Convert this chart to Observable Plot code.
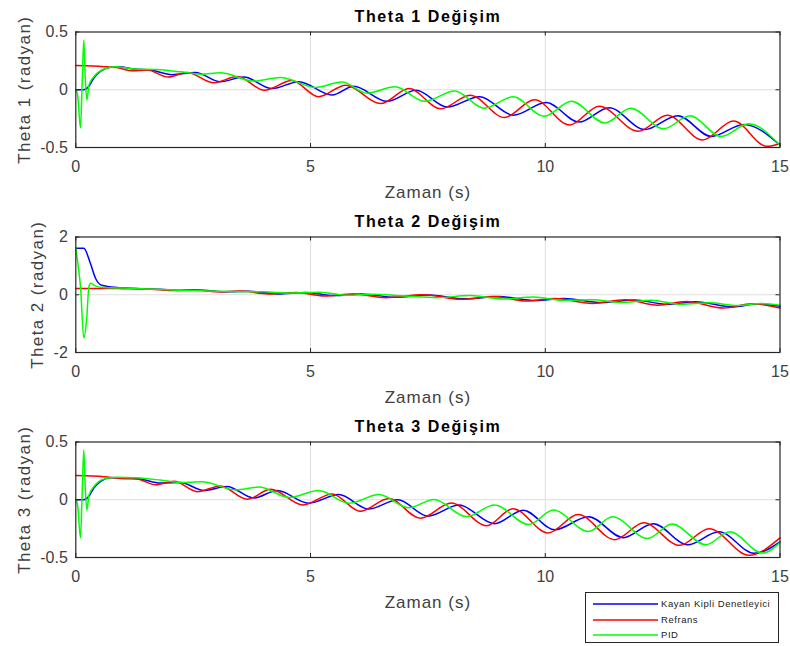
<!DOCTYPE html>
<html>
<head>
<meta charset="utf-8">
<script src="https://cdn.jsdelivr.net/npm/d3@7"></script>
<script src="https://cdn.jsdelivr.net/npm/@observablehq/plot@0.6"></script>
<style>
  body { margin: 0; background: #fff; }
  #fig { position: relative; width: 790px; height: 646px; font-family: "Liberation Sans", Arial, sans-serif; }
  #fig svg.panel { position: absolute; left: 0; }
  #legend { position: absolute; left: 585px; top: 592px; width: 192px; height: 49px; border: 1px solid #262626; background: #fff; }
  #legend .row { position: absolute; left: 0; height: 14px; width: 100%; }
  #legend svg { position: absolute; left: 7px; top: 0; }
  #legend span { position: absolute; left: 75px; top: 0; font-size: 9.5px; line-height: 14px; letter-spacing: 0.55px; color: #222; white-space: nowrap; }
</style>
</head>
<body>
<div id="fig"></div>
<script>
// Shared axis ticks and series legend
const timeTicks = [0, 5, 10, 15];
const theta13Ticks = [-0.5, 0, 0.5];
const theta2Ticks = [-2, 0, 2];
const seriesNames = ["Kayan Kipli Denetleyici", "Refrans", "PID"];
const seriesColors = ["#0000ff", "#ff0000", "#00ff00"];

// Theta 1 responses: [time (s), angle (rad)]
const theta1Kayan = [[0,0],[0.17,0],[0.28,0.03],[0.38,0.1],[0.53,0.16],[0.74,0.195],[0.92,0.2],[1.24,0.18],[1.6,0.17],[2.05,0.13],[2.55,0.15],[3.08,0.07],[3.58,0.11],[4.18,0.01],[4.75,0.07],[5.46,-0.045],[5.92,0.03],[6.63,-0.1],[7.25,-0.005],[7.91,-0.15],[8.6,-0.06],[9.32,-0.22],[10.02,-0.11],[10.72,-0.28],[11.36,-0.155],[12.12,-0.345],[12.82,-0.225],[13.54,-0.405],[14.23,-0.3],[15,-0.48]];
const theta1Ref = [[0,0.21],[0.6,0.2],[0.9,0.19],[1.2,0.165],[1.52,0.17],[1.97,0.11],[2.37,0.15],[2.94,0.06],[3.44,0.115],[4.02,-0.005],[4.6,0.08],[5.17,-0.06],[5.75,0.04],[6.49,-0.12],[7.1,0.01],[7.77,-0.165],[8.4,-0.047],[9.13,-0.24],[9.77,-0.087],[10.52,-0.305],[11.15,-0.142],[11.98,-0.36],[12.6,-0.22],[13.35,-0.435],[14.01,-0.27],[14.72,-0.49],[15,-0.465]];
const theta1Pid = [[0,0],[0.04,-0.05],[0.1,-0.33],[0.135,0.05],[0.17,0.43],[0.2,0.12],[0.235,-0.09],[0.28,0.04],[0.38,0.11],[0.6,0.18],[0.85,0.2],[1.24,0.18],[1.73,0.175],[2.23,0.155],[2.66,0.135],[3.08,0.147],[3.79,0.075],[4.36,0.107],[5.1,0.02],[5.67,0.067],[6.2,-0.03],[6.8,0.025],[7.43,-0.1],[8.07,-0.01],[8.7,-0.16],[9.32,-0.06],[9.97,-0.23],[10.56,-0.1],[11.27,-0.288],[11.82,-0.16],[12.52,-0.338],[13.08,-0.225],[13.75,-0.405],[14.33,-0.295],[15,-0.48]];

// Theta 2 responses
const theta2Kayan = [[0,1.61],[0.17,1.61],[0.31,1.09],[0.42,0.57],[0.53,0.34],[0.67,0.29],[0.88,0.25],[1.3,0.22],[1.8,0.19],[2.2,0.15],[2.7,0.16],[3.2,0.1],[3.7,0.12],[4.3,0.03],[4.9,0.08],[5.5,-0.03],[6.1,0.03],[6.8,-0.09],[7.5,-0.01],[8.3,-0.14],[9.0,-0.06],[9.8,-0.2],[10.4,-0.13],[11.2,-0.27],[11.9,-0.18],[12.6,-0.33],[13.2,-0.24],[14.0,-0.42],[14.5,-0.32],[15,-0.4]];
const theta2Ref = [[0,0.22],[0.5,0.22],[1,0.21],[1.6,0.19],[2.0,0.15],[2.5,0.17],[3.0,0.1],[3.5,0.13],[4.1,0.03],[4.7,0.08],[5.3,-0.04],[5.9,0.03],[6.6,-0.1],[7.4,0.0],[8.2,-0.16],[8.9,-0.06],[9.6,-0.22],[10.2,-0.13],[11.0,-0.3],[11.7,-0.17],[12.4,-0.36],[13.0,-0.23],[13.8,-0.46],[14.4,-0.31],[15,-0.46]];
const theta2Pid = [[0,1.61],[0.05,1.0],[0.1,0.29],[0.17,-1.5],[0.23,-0.86],[0.28,0.29],[0.32,0.4],[0.42,0.3],[0.6,0.25],[1,0.23],[1.5,0.2],[2.0,0.17],[2.8,0.13],[3.4,0.11],[4.0,0.1],[4.6,0.06],[5.2,0.09],[5.8,-0.02],[6.3,0.02],[7.0,-0.04],[7.7,-0.1],[8.4,-0.03],[9.1,-0.15],[9.75,-0.08],[10.4,-0.2],[11.0,-0.17],[11.6,-0.27],[12.25,-0.19],[12.9,-0.33],[13.5,-0.28],[14.1,-0.37],[14.6,-0.3],[15,-0.36]];

// Theta 3 responses
const theta3Kayan = [[0,0],[0.17,0],[0.28,0.03],[0.38,0.1],[0.53,0.16],[0.74,0.19],[0.95,0.19],[1.38,0.18],[1.8,0.145],[2.23,0.15],[2.73,0.08],[3.22,0.115],[3.79,0.015],[4.29,0.08],[4.96,-0.03],[5.6,0.045],[6.24,-0.08],[6.86,0],[7.5,-0.142],[8.16,-0.046],[8.92,-0.207],[9.53,-0.09],[10.2,-0.26],[10.92,-0.147],[11.66,-0.328],[12.3,-0.207],[13.03,-0.39],[13.7,-0.277],[14.45,-0.464],[15,-0.364]];
const theta3Ref = [[0,0.21],[0.6,0.2],[0.95,0.185],[1.3,0.18],[1.7,0.13],[2.09,0.16],[2.59,0.07],[3.08,0.12],[3.65,0.005],[4.15,0.09],[4.84,-0.045],[5.46,0.05],[6.06,-0.1],[6.67,0.01],[7.34,-0.16],[8.0,-0.028],[8.75,-0.225],[9.31,-0.077],[10.06,-0.288],[10.7,-0.128],[11.48,-0.346],[12.1,-0.2],[12.86,-0.395],[13.49,-0.25],[14.34,-0.48],[15,-0.33]];
const theta3Pid = [[0,0],[0.04,-0.05],[0.1,-0.33],[0.135,0.05],[0.17,0.43],[0.2,0.12],[0.235,-0.09],[0.28,0.04],[0.38,0.11],[0.6,0.18],[0.85,0.195],[1.3,0.19],[1.8,0.17],[2.2,0.15],[2.69,0.155],[3.4,0.085],[3.9,0.11],[4.55,0.02],[5.17,0.08],[5.82,-0.03],[6.46,0.045],[7.09,-0.07],[7.63,0.002],[8.32,-0.146],[8.92,-0.046],[9.65,-0.215],[10.17,-0.088],[10.92,-0.275],[11.43,-0.147],[12.18,-0.335],[12.7,-0.21],[13.42,-0.39],[13.93,-0.277],[14.63,-0.462],[15,-0.37]];

// Panel geometry
const W = 790, H = 205, mL = 75.3, mR = 10.5, mT = 31.5, mB = 58;
const innerW = W - mL - mR, innerH = H - mT - mB;
const inkDark = "#262626", inkTick = "#404040", gridInk = "#dedede";

function panel({title, ylabel, ylabelX, yDomain, yTicks, series}) {
  const rows = [];
  series.forEach((pts, i) => pts.forEach(([t, v]) => rows.push({t, v, s: seriesNames[i]})));
  const svg = Plot.plot({
    width: W, height: H,
    marginLeft: mL, marginRight: mR, marginTop: mT, marginBottom: mB,
    style: {fontFamily: '"Liberation Sans", Arial, sans-serif', background: "transparent", overflow: "visible"},
    x: {domain: [0, 15]},
    y: {domain: yDomain},
    color: {domain: seriesNames, range: seriesColors},
    marks: [
      Plot.gridX([5, 10], {stroke: gridInk, strokeOpacity: 1}),
      Plot.gridY([0], {stroke: gridInk, strokeOpacity: 1}),
      Plot.line(rows, {x: "t", y: "v", z: "s", stroke: "s", strokeWidth: 1.5, curve: "monotone-x"}),
      Plot.tickX(timeTicks, {x: d => d, insetTop: innerH - 4, stroke: inkDark}),
      Plot.tickX(timeTicks, {x: d => d, insetBottom: innerH - 4, stroke: inkDark}),
      Plot.tickY(yTicks, {y: d => d, insetRight: innerW - 4, stroke: inkDark}),
      Plot.tickY(yTicks, {y: d => d, insetLeft: innerW - 4, stroke: inkDark}),
      Plot.frame({stroke: inkDark, strokeWidth: 1.2}),
      Plot.axisX(timeTicks, {tickSize: 0, tickPadding: 13, fontSize: 16, fill: inkTick, label: null, tickFormat: d => String(d)}),
      Plot.axisY(yTicks, {tickSize: 0, tickPadding: 8, fontSize: 16, fill: inkTick, label: null, tickFormat: d => String(d)}),
      Plot.text([title], {frameAnchor: "top", lineAnchor: "middle", dy: -15, text: d => d, fontSize: 16, fontWeight: "bold", fill: "#000"}),
      Plot.text(["Zaman (s)"], {frameAnchor: "bottom", lineAnchor: "middle", dy: 45, text: d => d, fontSize: 17, fill: inkTick}),
      Plot.text([ylabel], {frameAnchor: "left", textAnchor: "middle", lineAnchor: "middle", dx: ylabelX - mL, rotate: -90, text: d => d, fontSize: 17, fill: inkTick})
    ]
  });
  svg.classList.add("panel");
  // widen the glyph spacing of the title and axis labels
  const spacing = ["1.6px", "1px", "1.4px"];
  svg.querySelectorAll('g[aria-label="text"]').forEach((g, i) => g.setAttribute("letter-spacing", spacing[i]));
  return svg;
}

const fig = document.getElementById("fig");
const panels = [
  {title: "Theta 1 Değişim", ylabel: "Theta 1 (radyan)", ylabelX: 24, yDomain: [-0.5, 0.5], yTicks: theta13Ticks, series: [theta1Kayan, theta1Ref, theta1Pid]},
  {title: "Theta 2 Değişim", ylabel: "Theta 2 (radyan)", ylabelX: 37.5, yDomain: [-2, 2], yTicks: theta2Ticks, series: [theta2Kayan, theta2Ref, theta2Pid]},
  {title: "Theta 3 Değişim", ylabel: "Theta 3 (radyan)", ylabelX: 24, yDomain: [-0.5, 0.5], yTicks: theta13Ticks, series: [theta3Kayan, theta3Ref, theta3Pid]}
];
panels.forEach((cfg, i) => {
  const svg = panel(cfg);
  svg.style.top = (i * H) + "px";
  fig.appendChild(svg);
});

// Legend box
const legend = document.createElement("div");
legend.id = "legend";
const rowTops = [3.5, 20, 35];
seriesNames.forEach((name, i) => {
  const row = document.createElement("div");
  row.className = "row";
  row.style.top = rowTops[i] + "px";
  row.innerHTML = `<svg width="66" height="14"><line x1="0" x2="65" y1="7" y2="7" stroke="${seriesColors[i]}" stroke-width="1.5"/></svg><span>${name}</span>`;
  legend.appendChild(row);
});
fig.appendChild(legend);
</script>
</body>
</html>
